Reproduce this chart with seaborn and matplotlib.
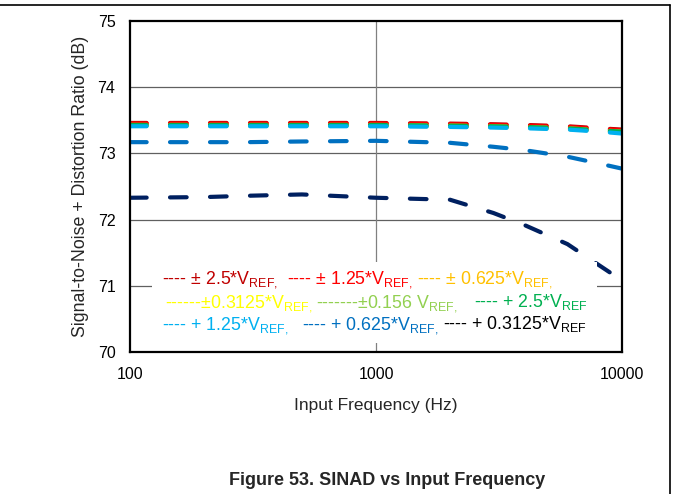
import matplotlib
matplotlib.use("Agg")
import numpy as np
import pandas as pd
import matplotlib.pyplot as plt
import seaborn as sns
from matplotlib.lines import Line2D
from matplotlib.patches import Rectangle

# input frequency (Hz)
freq = [100, 200, 300, 500, 1000, 2000, 3000, 4000, 6000, 8000, 10000]

# SINAD (dB) per input range
diff_2p5 = [73.46, 73.46, 73.46, 73.46, 73.46, 73.45, 73.44, 73.43, 73.41, 73.38, 73.36]
diff_1p25 = [73.45, 73.45, 73.45, 73.45, 73.45, 73.44, 73.43, 73.42, 73.40, 73.37, 73.35]
diff_0p625 = [73.43, 73.43, 73.43, 73.43, 73.43, 73.42, 73.41, 73.40, 73.38, 73.35, 73.33]
diff_0p3125 = [73.42, 73.42, 73.42, 73.42, 73.42, 73.41, 73.40, 73.39, 73.37, 73.34, 73.32]
diff_0p156 = [73.42, 73.42, 73.42, 73.42, 73.42, 73.41, 73.40, 73.39, 73.37, 73.34, 73.32]
se_2p5 = [73.43, 73.43, 73.43, 73.43, 73.43, 73.42, 73.41, 73.40, 73.38, 73.35, 73.33]
se_1p25 = [73.41, 73.41, 73.41, 73.41, 73.41, 73.40, 73.39, 73.38, 73.36, 73.33, 73.30]
se_0p625 = [73.17, 73.17, 73.17, 73.18, 73.19, 73.16, 73.10, 73.05, 72.95, 72.85, 72.77]
se_0p3125 = [72.33, 72.34, 72.36, 72.38, 72.33, 72.30, 72.10, 71.92, 71.63, 71.32, 71.08]

names = ["±2.5", "±1.25", "±0.625", "±0.3125", "±0.156",
         "+2.5", "+1.25", "+0.625", "+0.3125"]
values = [diff_2p5, diff_1p25, diff_0p625, diff_0p3125, diff_0p156,
          se_2p5, se_1p25, se_0p625, se_0p3125]
line_colors = ["#C00000", "#FF0000", "#FFC000", "#FFFF00", "#92D050",
               "#00B050", "#00B0F0", "#0070C0", "#002060"]
text_colors = ["#C00000", "#FF0000", "#FFC000", "#FFFF00", "#92D050",
               "#00B050", "#00B0F0", "#0070C0", "#000000"]
labels = [r"---- ± 2.5*V$_{REF,}$", r"---- ± 1.25*V$_{REF,}$", r"---- ± 0.625*V$_{REF,}$",
          r"------±0.3125*V$_{REF,}$", r"-------±0.156 V$_{REF,}$", r"---- + 2.5*V$_{REF}$",
          r"---- + 1.25*V$_{REF,}$", r"---- + 0.625*V$_{REF,}$", r"---- + 0.3125*V$_{REF}$"]

rows = []
for n, v in zip(names, values):
    for f, s in zip(freq, v):
        rows.append((n, f, s))
df = pd.DataFrame(rows, columns=["series", "freq", "sinad"])

sns.set_style("white")
plt.rcParams["font.family"] = ["Liberation Sans", "DejaVu Sans"]
plt.rcParams["mathtext.default"] = "regular"

W, H = 674, 494
fig = plt.figure(figsize=(W / 100, H / 100), dpi=100)
ax = fig.add_axes([130 / W, 1 - 352 / H, 492 / W, 331 / H])

for n, c in zip(names, line_colors):
    sns.lineplot(data=df[df.series == n], x="freq", y="sinad", color=c, lw=3,
                 linestyle=(0, (4, 5.6)), dash_capstyle="round",
                 estimator=None, ax=ax, zorder=3)

ax.set_xscale("log")
ax.set_xlim(100, 10000)
ax.set_ylim(70, 75)
ax.set_xticks([100, 1000, 10000])
ax.set_xticklabels(["100", "1000", "10000"])
ax.minorticks_off()
ax.set_yticks([70, 71, 72, 73, 74, 75])
ax.tick_params(length=0, labelsize=11.5, colors="black")
ax.tick_params(axis="y", pad=10.5)
ax.tick_params(axis="x", pad=11)
for y in [71, 72, 73, 74]:
    ax.axhline(y, color="#606060", lw=0.9, zorder=1)
ax.axvline(1000, color="#808080", lw=0.9, zorder=1)
for s in ax.spines.values():
    s.set_color("black")
    s.set_linewidth(1.6)
    s.set_zorder(4)

ax.set_xlabel("Input Frequency (Hz)", fontsize=12.5, labelpad=11)
ax.set_ylabel("Signal-to-Noise + Distortion Ratio (dB)", fontsize=12.8, labelpad=6)

# white box behind the text legend
ax.add_patch(Rectangle((22 / 492, 0.027), 0.904, 0.245,
                       transform=ax.transAxes, facecolor="white",
                       edgecolor="none", zorder=5))

# legend text placed in three rows
x_px = [162, 287, 417, 165, 316, 474, 162, 302, 443]
base_px = [284, 284, 284, 307, 307, 307, 329, 329, 329]
for lab, c, xp, yp in zip(labels, text_colors, x_px, base_px):
    ax.text((xp - 130) / 492, (352 - yp) / 331, lab, color=c, fontsize=12.8,
            transform=ax.transAxes, va="baseline", ha="left", zorder=6)

# page frame lines
fig.add_artist(Line2D([0, 670 / W], [1 - 5 / H, 1 - 5 / H], color="black", lw=1.2))
fig.add_artist(Line2D([670 / W, 670 / W], [0, 1 - 5 / H], color="black", lw=1.2))

fig.text(387 / W, 1 - 480 / H, "Figure 53. SINAD vs Input Frequency",
         fontsize=13, fontweight="bold", ha="center", va="center")

fig.savefig("out.png", dpi=100)
